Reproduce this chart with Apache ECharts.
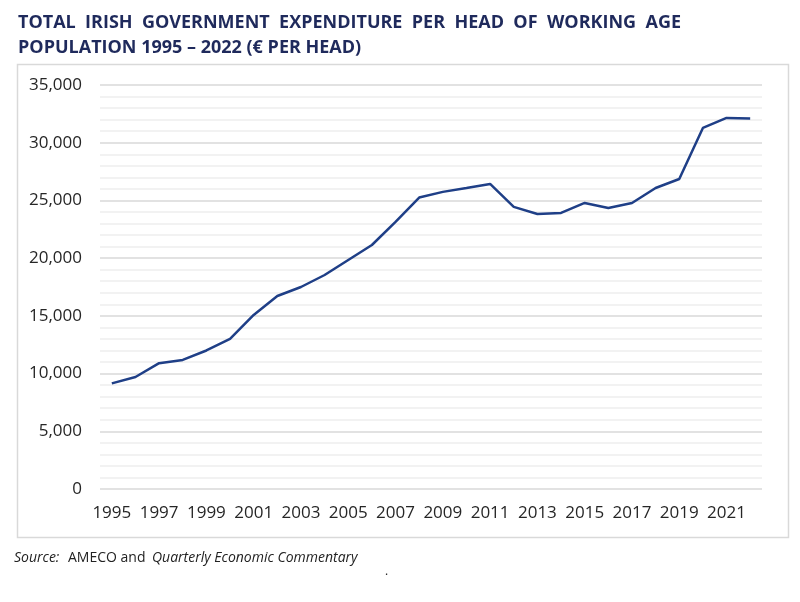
<!DOCTYPE html>
<html><head><meta charset="utf-8">
<script src="https://cdn.jsdelivr.net/npm/echarts@6/dist/echarts.min.js"></script>
<style>html,body{margin:0;padding:0;background:#fff}#c{width:800px;height:602px}</style>
</head><body><div id="c"></div>
<script>
const years = ['1995','1996','1997','1998','1999','2000','2001','2002','2003','2004','2005','2006','2007','2008','2009','2010','2011','2012','2013','2014','2015','2016','2017','2018','2019','2020','2021','2022'];
const spending = [9150,9700,10900,11180,12000,13000,15080,16720,17500,18540,19840,21140,23140,25250,25740,26080,26430,24440,23830,23920,24780,24350,24780,26080,26860,31280,32150,32100];
const yTicks = [0,5000,10000,15000,20000,25000,30000,35000];

const chart = echarts.init(document.getElementById('c'));
chart.setOption({
  animation:false,
  title:{
    text:'TOTAL  IRISH  GOVERNMENT  EXPENDITURE  PER  HEAD  OF  WORKING  AGE\nPOPULATION 1995 – 2022 (€ PER HEAD)',
    left:13, top:5,
    textStyle:{fontFamily:'Open Sans',fontWeight:'bold',fontSize:18,color:'#1F2A5C',lineHeight:25}
  },
  graphic:[
    {type:'rect',shape:{x:17.5,y:64.5,width:771,height:473},style:{fill:'none',stroke:'#d9d9d9',lineWidth:1.5},z:-1},
    {type:'text',left:14,top:551,style:{text:'Source:',font:'italic 14px "Open Sans"',fill:'#222'}},
    {type:'text',left:68,top:551,style:{text:'AMECO and',font:'14px "Open Sans"',fill:'#222'}},
    {type:'text',left:152,top:551,style:{text:'Quarterly Economic Commentary',font:'italic 14px "Open Sans"',fill:'#222'}},
    {type:'text',left:385,top:566,style:{text:'.',font:'12px "Open Sans"',fill:'#222'}}
  ],
  grid:{left:100,right:38,top:85,bottom:113},
  xAxis:{
    type:'category',data:years,boundaryGap:true,
    axisLine:{show:false},axisTick:{show:false},
    axisLabel:{interval:1,color:'#262626',fontFamily:'Open Sans',fontSize:17,margin:16}
  },
  yAxis:{
    type:'value',min:0,max:35000,interval:5000,
    axisLine:{show:false},axisTick:{show:false},
    axisLabel:{color:'#262626',fontFamily:'Open Sans',fontSize:17,margin:18,
      formatter:v=>yTicks.includes(v)?v.toLocaleString('en-US'):''},
    splitLine:{lineStyle:{color:'#d9d9d9',width:1.5}},
    minorTick:{show:false,splitNumber:5},
    minorSplitLine:{show:true,lineStyle:{color:'#eeeeee',width:1.5}}
  },
  series:[{type:'line',data:spending,symbol:'none',lineStyle:{color:'#1F3F87',width:2.5}}]
});
</script></body></html>
